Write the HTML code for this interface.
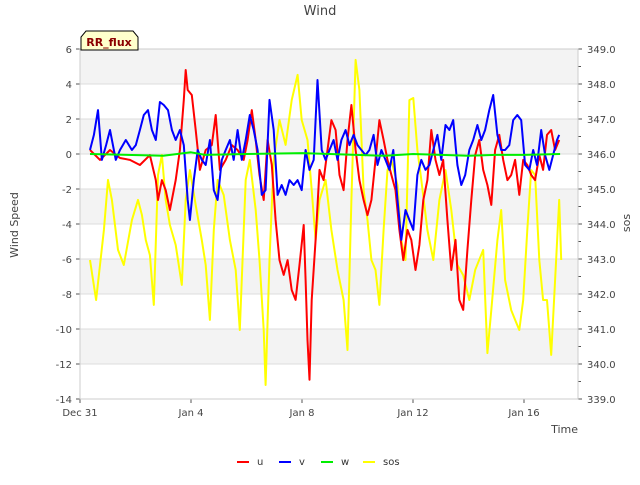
<!DOCTYPE html>
<html><head><meta charset="utf-8"><style>
body{margin:0;background:#fff;font-family:"Liberation Sans","DejaVu Sans",sans-serif}
svg text{font-family:"DejaVu Sans","Liberation Sans",sans-serif}
</style></head><body>
<svg id="c" width="640" height="480" xmlns="http://www.w3.org/2000/svg"></svg>
<script>
const tickDates=["Dec 31","Jan 4","Jan 8","Jan 12","Jan 16"];
const tickDays=[0,4,8,12,16];
const leftTicks=[6,4,2,0,-2,-4,-6,-8,-10,-12,-14];
const rightTicks=[349,348,347,346,345,344,343,342,341,340,339];
const tU=[0.36,0.72,1.08,1.44,1.80,2.16,2.52,2.73,2.81,2.95,3.09,3.24,3.45,3.60,3.74,3.81,3.88,4.03,4.17,4.32,4.53,4.75,4.89,5.04,5.25,5.47,5.68,5.90,6.04,6.19,6.33,6.47,6.62,6.76,6.91,7.05,7.19,7.34,7.48,7.63,7.77,7.91,8.06,8.13,8.20,8.27,8.35,8.49,8.63,8.78,8.92,9.06,9.21,9.35,9.50,9.64,9.78,9.93,10.07,10.22,10.36,10.50,10.65,10.79,10.94,11.08,11.22,11.37,11.51,11.65,11.80,11.94,12.09,12.23,12.37,12.52,12.66,12.81,12.95,13.09,13.24,13.38,13.53,13.67,13.81,13.96,14.10,14.24,14.39,14.53,14.68,14.82,14.96,15.11,15.25,15.40,15.54,15.68,15.83,15.97,16.12,16.26,16.40,16.55,16.69,16.83,16.98,17.12,17.27];
const u=[0.23,-0.34,0.23,-0.23,-0.34,-0.63,-0.06,-1.49,-2.63,-1.49,-2.06,-3.2,-1.49,0.23,3.09,4.8,3.66,3.37,1.37,-0.91,0.23,0.51,2.23,-0.91,-0.34,0.51,0.23,-0.34,0.8,2.51,0.8,-1.2,-2.63,0.8,-0.63,-3.77,-6.06,-6.91,-6.06,-7.77,-8.34,-6.34,-4.06,-7.2,-10.63,-12.9,-8.34,-4.91,-0.91,-1.49,0.23,1.94,1.37,-1.2,-2.06,0.8,2.8,0.23,-1.49,-2.63,-3.49,-2.63,-0.34,1.94,0.8,-0.34,-1.2,-2.06,-4.34,-6.06,-4.34,-4.91,-6.63,-5.2,-2.63,-1.49,1.37,-0.34,-1.2,-0.34,-3.77,-6.63,-4.91,-8.34,-8.91,-5.49,-2.63,-0.06,0.8,-0.91,-1.77,-2.91,0.23,1.09,-0.34,-1.49,-1.2,-0.34,-2.34,-0.34,-0.63,-1.2,-1.49,-0.06,-0.91,1.09,1.37,0.23,0.8];
const tV=[0.36,0.50,0.65,0.79,0.94,1.08,1.29,1.44,1.65,1.87,2.01,2.16,2.30,2.45,2.59,2.73,2.88,3.02,3.17,3.31,3.45,3.60,3.74,3.88,3.96,4.10,4.24,4.39,4.53,4.68,4.82,4.96,5.11,5.25,5.40,5.54,5.68,5.83,5.97,6.12,6.26,6.40,6.55,6.69,6.83,6.98,7.12,7.27,7.41,7.55,7.70,7.84,7.99,8.13,8.27,8.42,8.56,8.71,8.85,8.99,9.14,9.28,9.42,9.57,9.71,9.86,10.00,10.14,10.29,10.43,10.58,10.72,10.86,11.01,11.15,11.29,11.44,11.58,11.73,11.87,12.01,12.16,12.30,12.45,12.59,12.73,12.88,13.02,13.17,13.31,13.45,13.60,13.74,13.88,14.03,14.17,14.32,14.46,14.60,14.75,14.89,15.04,15.18,15.32,15.47,15.61,15.76,15.90,16.04,16.19,16.33,16.47,16.62,16.76,16.91,17.05,17.19,17.27];
const v=[0.23,1.09,2.51,-0.34,0.51,1.37,-0.34,0.23,0.8,0.23,0.51,1.37,2.23,2.51,1.37,0.8,2.97,2.8,2.51,1.37,0.8,1.37,0.51,-2.63,-3.77,-1.49,0.23,-0.34,-0.63,0.8,-2.06,-2.63,-0.34,0.23,0.8,-0.34,1.37,-0.34,0.8,2.23,1.37,0.23,-2.34,-2.06,3.09,1.37,-2.34,-1.77,-2.34,-1.49,-1.77,-1.49,-2.06,0.23,-0.91,-0.34,4.23,0.23,-0.34,0.23,0.8,-0.34,0.8,1.37,0.51,1.09,0.51,0.23,-0.06,0.23,1.09,-0.63,0.23,-0.34,-0.91,0.23,-2.63,-4.91,-3.2,-3.77,-4.34,-1.2,-0.34,-0.91,-0.63,0.23,1.09,-0.34,1.66,1.37,1.94,-0.63,-1.77,-1.2,0.23,0.8,1.66,0.8,1.37,2.51,3.37,1.09,0.23,0.23,0.51,1.94,2.23,1.94,-0.63,-0.91,0.23,-0.63,1.37,-0.06,-0.91,-0.06,0.8,1.09];
const tW=[0.36,3,4,4.5,6,8,9,11,12,14,15,16,17.3];
const w=[0,-0.1,0.1,-0.05,0,0.05,0,-0.1,0,-0.1,-0.05,-0.05,0];
const tS=[0.36,0.58,0.86,1.01,1.15,1.37,1.58,1.87,2.09,2.23,2.37,2.52,2.66,2.81,2.95,3.09,3.24,3.45,3.67,3.81,3.96,4.17,4.39,4.53,4.68,4.82,4.96,5.18,5.40,5.61,5.76,5.97,6.12,6.33,6.47,6.62,6.69,6.83,6.98,7.19,7.41,7.63,7.84,7.99,8.20,8.35,8.49,8.63,8.85,9.06,9.28,9.50,9.64,9.78,9.93,10.07,10.22,10.36,10.50,10.65,10.79,10.94,11.08,11.22,11.44,11.58,11.73,11.87,12.01,12.16,12.30,12.52,12.73,12.95,13.17,13.38,13.60,13.81,14.03,14.24,14.53,14.68,14.82,15.04,15.18,15.32,15.54,15.68,15.83,15.97,16.12,16.26,16.40,16.55,16.69,16.83,16.98,17.12,17.27,17.34];
const sos=[342.97,341.83,343.83,345.26,344.69,343.26,342.83,344.11,344.69,344.26,343.54,343.11,341.69,345.4,345.97,344.69,343.97,343.4,342.26,344.69,345.54,344.54,343.54,342.83,341.26,343.83,345.26,344.83,343.54,342.69,340.97,345.26,345.83,344.4,342.97,340.97,339.4,342.97,345.83,346.97,346.26,347.54,348.26,346.97,346.4,344.97,343.54,344.69,345.26,343.83,342.69,341.83,340.4,344.69,348.69,347.83,344.97,344.11,342.97,342.69,341.69,343.83,345.54,345.83,345.11,343.54,342.97,347.54,347.6,346.11,345.26,343.83,342.97,344.69,345.54,344.4,342.83,342.54,341.83,342.69,343.26,340.31,341.54,343.54,344.4,342.4,341.54,341.26,340.97,341.83,343.83,345.54,345.4,342.97,341.83,341.83,340.26,342.4,344.69,342.97];

const NS="http://www.w3.org/2000/svg", svg=document.getElementById('c');
const L=80,R=578,T=49,B=399;
const X=d=>L+d*27.75;
const Y=val=>T+(6-val)*(B-T)/20;
const Y2=val=>T+(349-val)*(B-T)/10;
function el(tag,attrs,txt){const e=document.createElementNS(NS,tag);for(const k in attrs)e.setAttribute(k,attrs[k]);if(txt!==undefined)e.textContent=txt;svg.appendChild(e);return e;}

let e=el('rect',{x:L,y:T,width:R-L,height:B-T,fill:'#fff'});


for(let i=0;i<leftTicks.length-1;i++){
  if(i%2===0){e=el('rect',{x:L,y:Y(leftTicks[i]),width:R-L,height:Y(leftTicks[i+1])-Y(leftTicks[i]),fill:'#f3f3f3'});
  
  }
}
leftTicks.forEach(t=>{
  e=el('line',{x1:L,x2:R,y1:Y(t),y2:Y(t),stroke:'#dcdcdc','stroke-width':1});
  
  
  e=el('line',{x1:L-4,x2:L,y1:Y(t),y2:Y(t),stroke:'#555'});
  
  
  e=el('text',{x:72,y:Y(t)+4,'text-anchor':'end','font-size':10,fill:'#444'},t);
  
  
});
rightTicks.forEach((t,i)=>{
  e=el('line',{x1:R,x2:R+4,y1:Y2(t),y2:Y2(t),stroke:'#555'});
  
  
  if(i<rightTicks.length-1){e=el('line',{x1:R,x2:R+3,y1:Y2(t-0.5),y2:Y2(t-0.5),stroke:'#555'});
  
  }
  e=el('text',{x:587,y:Y2(t)+4,'font-size':10,fill:'#444'},t.toFixed(1));
  
  
});
tickDays.forEach((d,i)=>{
  e=el('line',{x1:X(d),x2:X(d),y1:B,y2:B+4,stroke:'#555'});
  
  
  e=el('text',{x:X(d),y:416,'text-anchor':'middle','font-size':10,fill:'#444'},tickDates[i]);
  
  
});
e=el('rect',{x:L,y:T,width:R-L,height:B-T,fill:'none',stroke:'#ccc'});



function line(ts,vals,yf,color,name){
  const d=ts.map((t,i)=>(i?'L':'M')+X(t).toFixed(1)+','+yf(vals[i]).toFixed(1)).join('');
  const p=el('path',{d:d,fill:'none',stroke:color,'stroke-width':2,'stroke-linejoin':'round'});
  
  
}
line(tS,sos,Y2,'#ffff00','sos-line');
line(tU,u,Y,'#ff0000','u-line');
line(tV,v,Y,'#0000ff','v-line');
line(tW,w,Y,'#00ee00','w-line');

e=el('text',{x:320,y:15,'text-anchor':'middle','font-size':13,fill:'#444'},'Wind');


e=el('text',{x:18,y:225,'text-anchor':'middle','font-size':11,fill:'#444',transform:'rotate(-90 18 225)'},'Wind Speed');


e=el('text',{x:630,y:223,'text-anchor':'middle','font-size':11,fill:'#444',transform:'rotate(-90 630 223)'},'sos');


e=el('text',{x:578,y:433,'text-anchor':'end','font-size':11,fill:'#444'},'Time');


e=el('path',{d:'M81,50 L81,37 L86,31 L133,31 L138,37 L138,50 Z',fill:'#ffffcc',stroke:'#000'});


e=el('text',{x:109,y:46,'text-anchor':'middle','font-size':11,'font-weight':'bold',fill:'#8b0000'},'RR_flux');


const legNames=['u','v','w','sos'],legColors=['#ff0000','#0000ff','#00ee00','#ffff00'],legX=[237,279,321,363];
legNames.forEach((n,i)=>{
  const g=el('line',{x1:legX[i],x2:legX[i]+12,y1:462,y2:462,stroke:legColors[i],'stroke-width':2});
  
  
  const t=el('text',{x:legX[i]+20,y:465,'font-size':10,fill:'#333'},n);
  
  
});
</script>
</body></html>
